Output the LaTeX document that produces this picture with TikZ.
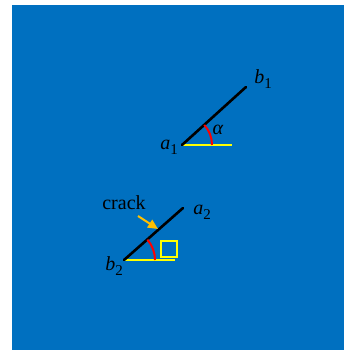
\documentclass[tikz,border=0pt]{standalone}
\usepackage{fontspec}
\setmainfont{Liberation Serif}
\usetikzlibrary{arrows.meta, positioning}
\definecolor{bgblue}{HTML}{0070C0}
\definecolor{baseyellow}{HTML}{FFFF00}
\definecolor{anglered}{HTML}{FF0000}
\definecolor{markorange}{HTML}{FFC000}
\newcommand{\ptlabel}[2]{\textit{#1}\raisebox{-5pt}{\fontsize{15}{15}\selectfont #2}}

\begin{document}
\begin{tikzpicture}[
    x=1pt, y=1pt,
    crackline/.style={line width=2.6pt, black},
    base/.style={line width=1.8pt, color=baseyellow},
    ang/.style={line width=2pt, color=anglered},
    lbl/.style={font=\fontsize{20}{24}\selectfont, inner sep=0pt},
    marker/.style={rectangle, draw=baseyellow, line width=2.2pt,
                   minimum width=16pt, minimum height=16pt, inner sep=0pt},
    arr/.style={-{Triangle[length=10pt, width=9pt]}, line width=2pt, color=markorange}
  ]
    \useasboundingbox (0,0) rectangle (344,-350);
    \fill[bgblue] (12,-5) rectangle (344,-350);

    % upper crack
    \coordinate (a1) at (182,-145);
    \coordinate (b1) at (246,-87);
    \coordinate (e1) at (232,-145);
    \draw[base] (a1) -- (e1);
    \draw[crackline, line cap=round] (a1) -- (b1);
    \draw[ang] ([xshift=30pt]a1) arc[start angle=0, end angle=42, radius=30pt];
    \node[lbl] (la1) at (169,-147) {\ptlabel{a}{1}};
    \node[lbl] (lb1) at (263,-79)  {\ptlabel{b}{1}};
    \node[lbl] (alpha) at (218,-130) {\textit{α}};

    % lower crack
    \coordinate (b2) at (124,-260);
    \coordinate (a2) at (183,-208);
    \coordinate (e2) at (175,-260);
    \draw[base] (b2) -- (e2);
    \draw[crackline, line cap=round] (b2) -- (a2);
    \draw[ang] ([xshift=31pt]b2) arc[start angle=0, end angle=41, radius=31pt];
    \node[lbl] (la2) at (202,-212) {\ptlabel{a}{2}};
    \node[lbl] (lb2) at (114,-266) {\ptlabel{b}{2}};
    \node[marker] (sq) at (169,-249) {};

    \node[lbl] (crack) at (124,-203) {crack};
    \coordinate (tip) at (158,-229);
    \draw[arr] (138,-216) -- (tip);
  \end{tikzpicture}
\end{document}
